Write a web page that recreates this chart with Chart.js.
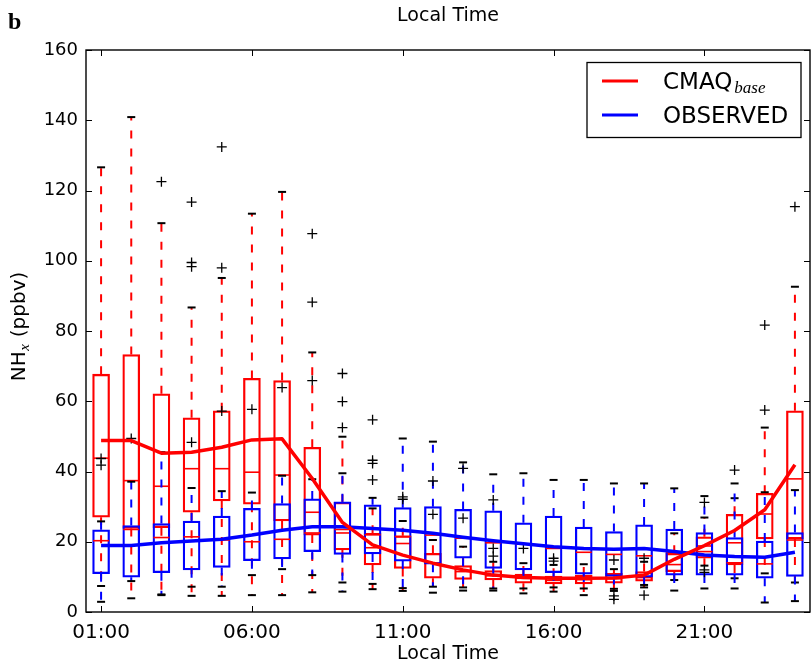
<!DOCTYPE html>
<html><head><meta charset="utf-8">
<script src="https://cdn.jsdelivr.net/npm/chart.js@4.4.1/dist/chart.umd.min.js"></script>
<style>html,body{margin:0;padding:0;background:#fff;}canvas{display:block;}</style>
</head><body>
<canvas id="c" width="812" height="663"></canvas>
<script>
// ---------- data ----------
const hours = [1,2,3,4,5,6,7,8,9,10,11,12,13,14,15,16,17,18,19,20,21,22,23,24];
const tickHours = [1,6,11,16,21];
const tickLabels = ['01:00','06:00','11:00','16:00','21:00'];

// CMAQ base (red)
const cmaqLow  = [7.4,3.9,4.8,4.6,4.6,4.8,4.8,5.6,8.4,6.5,6.0,5.5,6.1,6.1,5.3,5.8,4.8,6.0,7.0,9.1,13.2,9.6,11.0,8.4];
const cmaqQ1   = [27.0,23.8,24.0,28.4,31.6,30.7,25.9,21.9,17.7,13.4,12.4,9.6,9.3,9.1,8.2,8.0,8.0,8.2,8.8,11.5,15.3,13.4,20.8,20.8];
const cmaqMed  = [43.8,37.4,35.8,40.8,40.8,39.8,39.0,28.4,22.5,18.3,19.5,13.9,11.5,10.3,9.6,9.0,9.2,9.5,9.8,13.5,18.8,19.7,27.9,37.9];
const cmaqQ3   = [67.7,73.3,62.1,55.3,57.3,66.5,65.9,46.9,31.2,22.4,21.7,16.7,13.2,11.8,10.8,10.2,10.5,11.0,11.5,16.7,21.4,27.8,33.8,57.3];
const cmaqHigh = [126.6,140.9,110.7,86.7,95.1,113.4,119.6,73.9,49.9,29.5,25.9,20.5,18.6,14.3,13.9,13.4,13.6,12.2,14.3,22.4,26.9,32.4,52.5,92.6];
const cmaqMean = [48.8,48.8,45.2,45.5,46.9,49.0,49.3,38.0,25.5,19.1,16.2,13.9,12.0,10.5,9.8,9.6,9.6,9.7,10.5,15.0,18.9,23.2,29.1,41.9];
const cmaqOut  = [[],[],[122.5],[116.7,99.5,98.3],[132.4,98.0],[],[],[107.7,88.2],[52.5,59.9,67.9],[54.7,43.2,42.3,37.6],[32.8,32.1],[37.3,27.8],[40.9,26.7],[31.9,18.1,15.9],[18.1],[15.3,14.5],[],[14.8],[15.3],[],[31.2,12.0,11.3],[40.4],[57.5,81.7],[115.4]];

// OBSERVED (blue)
const obsLow  = [2.9,8.8,5.0,7.2,7.2,10.5,12.2,10.5,5.8,8.0,6.8,7.2,7.0,6.7,6.7,7.0,6.7,6.6,7.7,6.1,6.7,6.7,2.7,3.1];
const obsQ1   = [10.9,9.9,11.2,12.0,12.7,14.6,15.1,17.2,16.4,16.5,14.5,13.6,15.3,12.4,12.0,11.2,10.8,10.1,9.9,10.5,10.5,10.5,9.6,10.1];
const obsMed  = [20.3,23.5,21.2,21.4,20.5,20.0,20.7,22.5,23.5,22.0,21.5,21.9,21.0,19.7,19.3,18.1,17.0,16.4,16.0,17.0,17.2,14.0,13.7,20.5];
const obsQ3   = [23.4,24.6,25.2,25.9,27.3,29.5,30.9,32.2,31.4,30.5,29.7,30.0,29.2,28.8,25.4,27.3,24.2,22.9,24.8,23.6,22.6,21.2,20.2,22.6];
const obsHigh = [25.8,37.1,45.5,35.3,34.4,34.0,38.8,37.8,39.5,32.5,49.4,48.5,42.6,39.2,39.5,37.6,37.6,36.6,36.6,35.2,33.0,36.6,34.1,34.7];
const obsMean = [18.9,18.9,19.7,20.2,20.7,21.9,23.3,24.3,24.3,23.8,23.3,22.4,21.3,20.3,19.4,18.6,18.1,17.9,18.1,17.2,16.2,15.8,15.6,17.0];
const obsOut  = [[43.7,41.8],[49.4],[],[48.3],[57.2],[57.7],[63.9],[65.9],[],[],[],[],[],[],[],[],[],[4.6,3.6],[4.8],[],[],[],[],[]];

// ---------- builders ----------
const RED = '#ff0000', BLUE = '#0000ff';
const boxData = (q1,q3) => hours.map((h,i) => ({x:h, y:[q1[i], q3[i]]}));
const whiskerData = (lo,q1,q3,hi) => {
  const d = [];
  hours.forEach((h,i) => {
    d.push({x:h,y:q3[i]},{x:h,y:hi[i]},{x:h,y:null},{x:h,y:q1[i]},{x:h,y:lo[i]},{x:h,y:null});
  });
  return d;
};
const capData = (lo,hi) => hours.flatMap((h,i) => [{x:h,y:lo[i]},{x:h,y:hi[i]}]);
const ptData = arr => hours.map((h,i) => ({x:h,y:arr[i]}));
const outData = arr => hours.flatMap((h,i) => arr[i].map(v => ({x:h,y:v})));

function boxSet(col, lo, q1, med, q3, hi, base) {
  return [
    {type:'line', data: whiskerData(lo,q1,q3,hi), borderColor: col, borderWidth: 2, borderDash:[8,10],
     pointRadius:0, spanGaps:false, fill:false, order: base+3},
    {type:'bar', data: boxData(q1,q3), borderColor: col, backgroundColor:'rgba(0,0,0,0)', borderWidth:1.6,
     borderSkipped:false, barThickness:17, grouped:false, order: base+2},
    {type:'line', data: capData(lo,hi), showLine:false, pointStyle:'line', pointRadius:4, pointBorderWidth:2,
     pointBorderColor:'#000', pointBackgroundColor:'#000', order: base+1},
    {type:'line', data: ptData(med), showLine:false, pointStyle:'line', pointRadius:8, pointBorderWidth:1.6,
     pointBorderColor: RED, pointBackgroundColor: RED, order: base}
  ];
}

const datasets = [
  {type:'line', label:'CMAQ', data: ptData(cmaqMean), borderColor: RED, borderWidth:3.5, pointRadius:0, tension:0, borderJoinStyle:'round', order:0},
  {type:'line', label:'OBS', data: ptData(obsMean), borderColor: BLUE, borderWidth:3.5, pointRadius:0, tension:0, borderJoinStyle:'round', order:1},
  {type:'line', data: outData(cmaqOut).concat(outData(obsOut)), showLine:false, pointStyle:'cross', pointRadius:5,
   pointBorderWidth:1.3, pointBorderColor:'#000', order:2},
  ...boxSet(BLUE, obsLow, obsQ1, obsMed, obsQ3, obsHigh, 3),
  ...boxSet(RED, cmaqLow, cmaqQ1, cmaqMed, cmaqQ3, cmaqHigh, 8)
];

// ---------- decorations ----------
const FONT = "'DejaVu Sans', sans-serif";
const noPad = s => { s.paddingLeft = 0; s.paddingRight = 0; s.paddingTop = 0; s.paddingBottom = 0; };
const decor = {
  id:'decor',
  afterDatasetsDraw(chart) {
    const {ctx, chartArea:a, scales} = chart;
    ctx.save();
    const ln = (x1,y1,x2,y2) => {ctx.beginPath();ctx.moveTo(x1,y1);ctx.lineTo(x2,y2);ctx.stroke();};
    ctx.strokeStyle = '#000';
    ctx.lineWidth = 1;
    const tl = 6;
    tickHours.forEach(v => { const px = Math.round(scales.x.getPixelForValue(v))+0.5;
      ln(px,a.bottom,px,a.bottom-tl); ln(px,a.top,px,a.top+tl); });
    scales.y.ticks.forEach(t => { const py = Math.round(scales.y.getPixelForValue(t.value))+0.5;
      ln(a.left,py,a.left+tl,py); ln(a.right,py,a.right-tl,py); });
    ctx.lineWidth = 1.4;
    ctx.strokeRect(a.left, a.top, a.right-a.left, a.bottom-a.top);

    // legend
    const lx = a.right - 223, ly = a.top + 12.5, lw = 214, lh = 75;
    ctx.fillStyle = '#fff'; ctx.fillRect(lx,ly,lw,lh);
    ctx.lineWidth = 1.3; ctx.strokeStyle = '#000'; ctx.strokeRect(lx,ly,lw,lh);
    ctx.lineWidth = 3;
    ctx.strokeStyle = RED; ln(lx+15, ly+18.5, lx+51, ly+18.5);
    ctx.strokeStyle = BLUE; ln(lx+15, ly+52.5, lx+51, ly+52.5);
    ctx.fillStyle = '#000'; ctx.textBaseline = 'alphabetic'; ctx.textAlign = 'left';
    ctx.font = "23px " + FONT;
    ctx.fillText('CMAQ', lx+76, ly+26);
    const w = ctx.measureText('CMAQ').width;
    ctx.font = "italic 17px 'Liberation Serif', serif";
    ctx.fillText('base', lx+76+w+2, ly+30);
    ctx.font = "23px " + FONT;
    ctx.fillText('OBSERVED', lx+76, ly+60.5);
    ctx.restore();
  },
  afterDraw(chart) {
    const {ctx, chartArea:a} = chart;
    ctx.save();
    ctx.fillStyle = '#000';
    ctx.font = "bold 24px 'Liberation Serif', serif";
    ctx.textBaseline = 'alphabetic'; ctx.textAlign = 'left';
    ctx.fillText('b', 8, 29);
    // y title NH_x (ppbv)
    ctx.translate(20, (a.top+a.bottom)/2 - 4);
    ctx.rotate(-Math.PI/2);
    ctx.textBaseline = 'middle';
    const f1 = "20px " + FONT, f2 = "italic 15px 'Liberation Serif', serif";
    ctx.font = f1; const w1 = ctx.measureText('NH').width, w3 = ctx.measureText(' (ppbv)').width;
    ctx.font = f2; const w2 = ctx.measureText('x').width;
    let x = -(w1+w2+w3)/2;
    ctx.font = f1; ctx.fillText('NH', x, 0); x += w1;
    ctx.font = f2; ctx.fillText('x', x+0.5, 5); x += w2+1;
    ctx.font = f1; ctx.fillText(' (ppbv)', x, 0);
    ctx.restore();
  }
};

new Chart(document.getElementById('c'), {
  type:'bar',
  data:{datasets},
  options:{
    responsive:false, animation:false, events:[],
    layout:{autoPadding:false, padding:{left:0,right:2,top:0,bottom:0}},
    plugins:{legend:{display:false}, tooltip:{enabled:false}, title:{display:false}},
    scales:{
      x:{type:'linear', position:'bottom', min:0.5, max:24.5, offset:false,
         grid:{display:false, drawTicks:false}, border:{display:false},
         afterBuildTicks: s => { s.ticks = tickHours.map(v => ({value:v})); },
         afterFit: s => { s.height = 51; noPad(s); },
         ticks:{autoSkip:false, maxRotation:0, color:'#000', padding:9, font:{family:FONT, size:20},
                callback: v => { const i = tickHours.indexOf(v); return i >= 0 ? tickLabels[i] : ''; }},
         title:{display:true, text:'Local Time', color:'#000', font:{family:FONT, size:19, lineHeight:'18px'}, padding:{top:0,bottom:0}}},
      x2:{type:'linear', axis:'x', position:'top', min:0.5, max:24.5, offset:false,
         grid:{display:false, drawTicks:false}, border:{display:false},
         ticks:{display:false},
         afterFit: s => { s.height = 50; noPad(s); },
         title:{display:true, text:'Local Time', color:'#000', font:{family:FONT, size:19, lineHeight:'18px'}, padding:{top:7,bottom:0}}},
      y:{type:'linear', position:'left', min:0, max:160,
         grid:{display:false, drawTicks:false}, border:{display:false},
         afterFit: s => { s.width = 86; noPad(s); },
         ticks:{stepSize:20, color:'#000', padding:8, font:{family:FONT, size:18}}}
    }
  },
  plugins:[decor]
});
</script>
</body></html>
